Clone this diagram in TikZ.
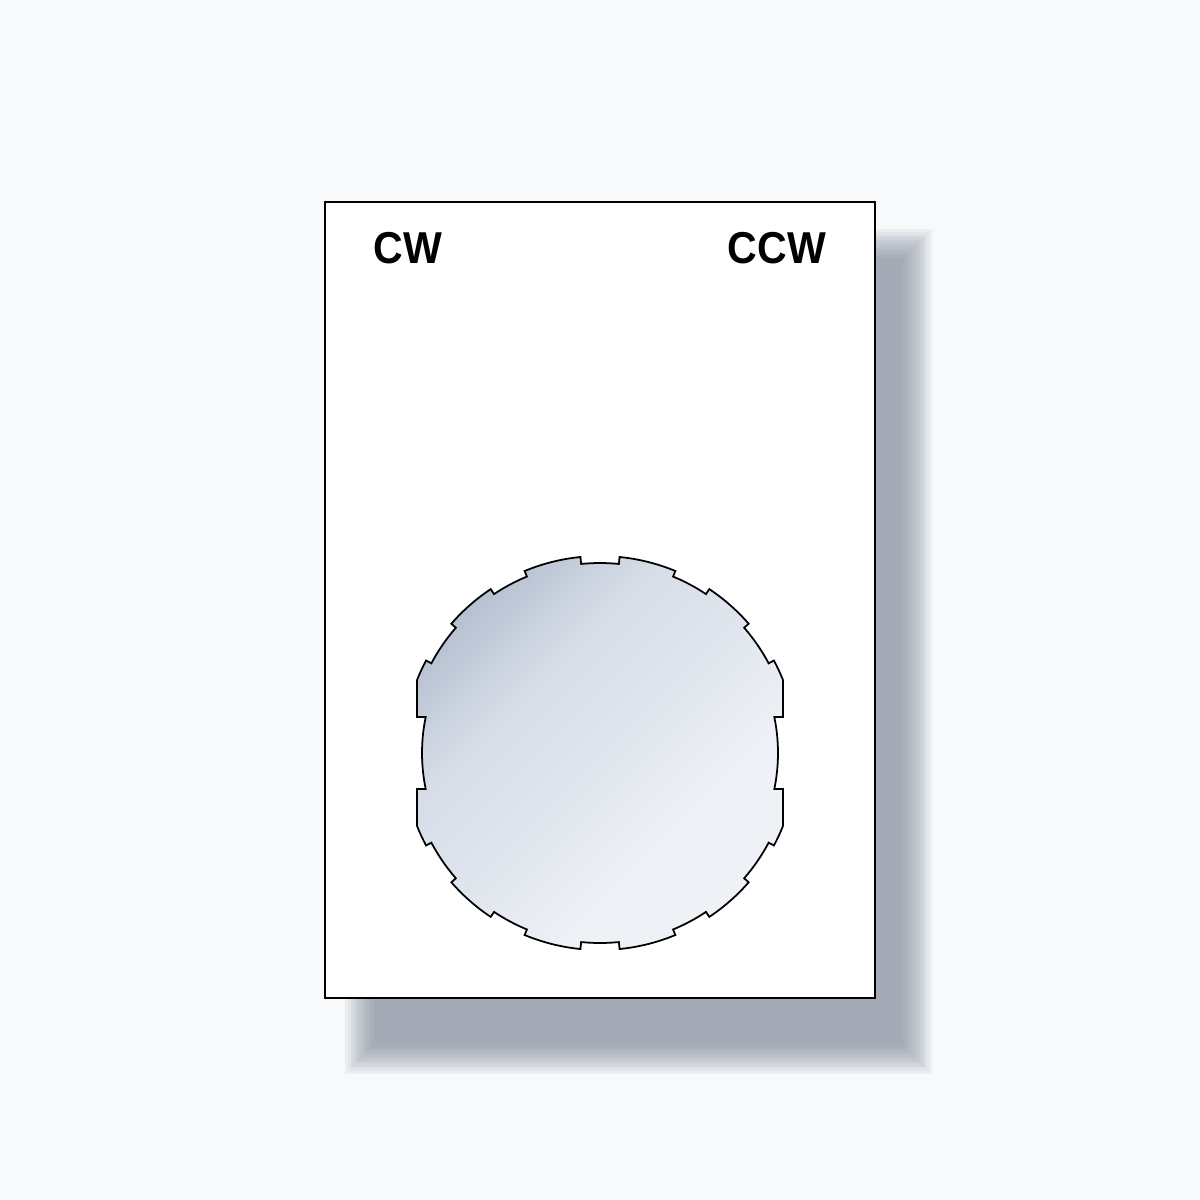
\documentclass[tikz,border=0pt]{standalone}
\usepackage{fontspec}
\setmainfont{Liberation Sans}
\definecolor{bgcol}{HTML}{F7F9FB}
\definecolor{shadowcol}{HTML}{7F8997}
\definecolor{discdark}{HTML}{ABB7CA}
\definecolor{discmid}{HTML}{D6DDE7}
\definecolor{disclight}{HTML}{EEF1F6}
\pgfdeclareverticalshading{discshade}{100bp}{%
  color(0bp)=(disclight); color(35bp)=(disclight); color(50bp)=(discmid!60!disclight);
  color(63bp)=(discmid); color(80bp)=(discdark); color(100bp)=(discdark)}
\tikzset{
  panel/.style={draw=black, line width=0.6pt, fill=white},
  disc/.style={draw=black, line width=0.5pt, line join=miter,
    shading=discshade, shading angle=45},
  label/.style={font=\fontsize{12.7pt}{14pt}\selectfont\bfseries, anchor=base, inner sep=0pt},
}
\begin{document}
\begin{tikzpicture}[x=0.01cm,y=-0.01cm]
\fill[bgcol] (0,0) rectangle (1200,1200);
\useasboundingbox (0,0) rectangle (1200,1200);
% soft shadow
\foreach \i in {0,...,11}{
  \pgfmathsetmacro{\e}{2.6*(11-\i)}
  \fill[shadowcol, opacity=0.085] (374-\e,258-\e) rectangle (903+\e,1045+\e);
}
% panel
\draw[panel] (325,202) rectangle (875,998);
% notched disc
\begin{scope}[shift={(600,753)}]
\path[disc]
  (-95.7:190) arc[start angle=-95.7, end angle=-84.3, radius=190]
  -- (-84.3:197) arc[start angle=-84.3, end angle=-67.5, radius=197]
  -- (-67.5:191) arc[start angle=-67.5, end angle=-56.3, radius=191]
  -- (-56.3:197) arc[start angle=-56.3, end angle=-41, radius=197]
  -- (-41:191) arc[start angle=-41, end angle=-28, radius=191]
  -- (-28:197) arc[start angle=-28, end angle=-21.7, radius=197]
  -- (183,-36) -- (-11.67:178) arc[start angle=-11.67, end angle=11.67, radius=178]
  -- (183,36) -- (21.7:197) arc[start angle=21.7, end angle=28, radius=197]
  -- (28:191) arc[start angle=28, end angle=41, radius=191]
  -- (41:197) arc[start angle=41, end angle=56.3, radius=197]
  -- (56.3:191) arc[start angle=56.3, end angle=67.5, radius=191]
  -- (67.5:197) arc[start angle=67.5, end angle=84.3, radius=197]
  -- (84.3:190) arc[start angle=84.3, end angle=95.7, radius=190]
  -- (95.7:197) arc[start angle=95.7, end angle=112.5, radius=197]
  -- (112.5:191) arc[start angle=112.5, end angle=123.7, radius=191]
  -- (123.7:197) arc[start angle=123.7, end angle=139, radius=197]
  -- (139:191) arc[start angle=139, end angle=152, radius=191]
  -- (152:197) arc[start angle=152, end angle=158.3, radius=197]
  -- (-183,36) -- (168.33:178) arc[start angle=168.33, end angle=191.67, radius=178]
  -- (-183,-36) -- (201.7:197) arc[start angle=201.7, end angle=208, radius=197]
  -- (208:191) arc[start angle=208, end angle=221, radius=191]
  -- (221:197) arc[start angle=221, end angle=236.3, radius=197]
  -- (236.3:191) arc[start angle=236.3, end angle=247.5, radius=191]
  -- (247.5:197) arc[start angle=247.5, end angle=264.3, radius=197]
  -- cycle;
\end{scope}
% labels
\node[label] (cw) at (408,263) {\scalebox{0.92}[1]{CW}};
\node[label] (ccw) at (777,263) {\scalebox{0.92}[1]{CCW}};
\end{tikzpicture}
\end{document}
